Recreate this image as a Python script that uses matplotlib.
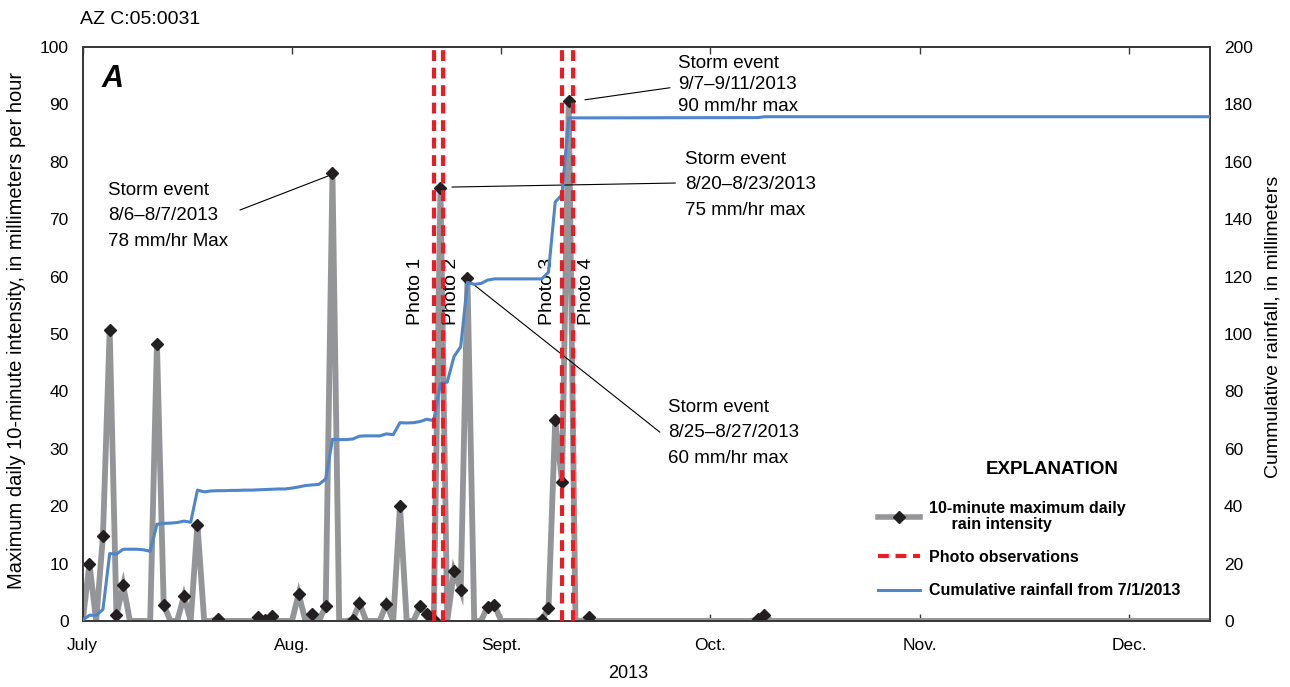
import numpy as np
import matplotlib
matplotlib.use("Agg")
import matplotlib.pyplot as plt
from matplotlib.lines import Line2D

plt.rcParams['font.family'] = ['Liberation Sans', 'DejaVu Sans']

# days counted from 7/1/2013 (day 0)
n_days = 168
event_days = [1, 3, 4, 5, 6, 11, 12, 15, 17, 20, 26, 27, 28, 32, 34, 36, 37, 40, 41,
              45, 47, 50, 51, 52, 53, 55, 56, 57, 60, 61, 68, 69, 70, 71, 72, 75, 100, 101]
event_values = [10.0, 14.8, 50.7, 1.0, 6.2, 48.3, 2.8, 4.3, 16.8, 0.3, 0.7, 0.2, 0.8,
                4.7, 1.2, 2.6, 78.0, 0.2, 3.1, 3.0, 20.0, 2.6, 1.2, 0.1, 75.5, 8.7,
                5.4, 59.8, 2.5, 2.8, 0.2, 2.2, 35.0, 24.3, 90.6, 0.7, 0.3, 1.0]

cum_days = list(range(0, 76)) + [100, 101, 167]
cum_values = [0.3, 2.0, 2.0, 4.0, 23.5, 23.3, 25.0, 25.0, 25.0, 24.8,
              24.3, 33.7, 34.0, 34.1, 34.3, 34.8, 34.4, 45.6, 45.0, 45.3,
              45.4, 45.4, 45.5, 45.5, 45.6, 45.6, 45.7, 45.8, 45.9, 46.0,
              46.0, 46.3, 46.7, 47.2, 47.4, 47.6, 49.5, 63.3, 63.2, 63.2,
              63.4, 64.4, 64.5, 64.5, 64.5, 65.2, 64.9, 69.1, 69.0, 69.1,
              69.5, 70.3, 69.8, 82.8, 83.2, 92.1, 95.6, 118.0, 117.3, 117.6,
              118.8, 119.2, 119.2, 119.2, 119.2, 119.2, 119.2, 119.2, 119.2, 121.5,
              146.0, 148.5, 175.3, 175.3, 175.3, 175.3, 175.4, 175.7, 175.7]

photo_days = [52.0, 53.4, 71.0, 72.7]
photo_labels = ['Photo 1', 'Photo 2', 'Photo 3', 'Photo 4']

month_ticks = [0, 31, 62, 93, 124, 155]
month_labels = ['July', 'Aug.', 'Sept.', 'Oct.', 'Nov.', 'Dec.']

gray = '#939598'
blue = '#4f86c9'
red = '#ed1c24'
dark = '#231f20'

intensity = np.zeros(n_days)
intensity[event_days] = event_values

fig = plt.figure(figsize=(12.9, 6.87), dpi=100)
ax = fig.add_axes([0.0641, 0.0961, 0.8739, 0.8355])
ax2 = ax.twinx()

ax.plot(np.arange(n_days), intensity, color=gray, lw=4.2, solid_joinstyle='miter', zorder=2)
ax.plot(event_days, event_values, ls='none', marker='D', ms=6, color=dark, zorder=3)

ax2.plot(cum_days, cum_values, color=blue, lw=2.2, zorder=3)
for d in photo_days:
    ax2.axvline(d, color=red, lw=3.0, ls=(0, (2.6, 1.6)), zorder=4)

ax.set_xlim(0, 167)
ax.set_ylim(0, 100)
ax2.set_ylim(0, 200)
ax.set_xticks(month_ticks)
ax.set_xticklabels(month_labels)
ax.set_yticks(np.arange(0, 101, 10))
ax2.set_yticks(np.arange(0, 201, 20))

for a in (ax, ax2):
    for s in a.spines.values():
        s.set_color('#3a3a3a')
        s.set_linewidth(1.4)
ax.tick_params(axis='x', direction='in', top=True, length=5, width=1, color='#3a3a3a',
               labelsize=12.5, pad=12)
ax.tick_params(axis='y', direction='in', length=0, labelsize=12.5, pad=10)
ax2.tick_params(axis='y', direction='in', length=0, labelsize=12.5, pad=10)

ax.set_xlabel('2013', fontsize=13)
ax.xaxis.set_label_coords(0.484, -0.0767)
ax.set_ylabel('Maximum daily 10-minute intensity, in millimeters per hour', fontsize=14.5)
ax.yaxis.set_label_coords(-0.0503, 0.507)
ax2.set_ylabel('Cummulative rainfall, in millimeters', fontsize=14)
ax2.yaxis.set_label_coords(1.048, 0.512)

fig.text(0.062, 0.972, 'AZ C:05:0031', fontsize=14, va='center', ha='left')
ax.text(4.5, 94.5, 'A', fontsize=22, fontweight='bold', style='italic', va='center', ha='center')

# photo labels
photo_text_x = [49.3, 54.7, 68.8, 74.6]
for x, lab in zip(photo_text_x, photo_labels):
    ax.text(x, 51.6, lab, rotation=90, fontsize=14, ha='center', va='bottom')

# storm event annotations
line_kw = dict(arrowstyle='-', color='black', lw=0.8, shrinkA=0, shrinkB=0)
ax.text(3.75, 70.6, 'Storm event\n8/6\u20138/7/2013\n78 mm/hr Max', fontsize=13.5,
        va='center', ha='left', linespacing=1.65)
ax.annotate('', xy=(36.3, 77.5), xytext=(23.3, 71.6), arrowprops=line_kw)
ax.text(89.2, 76.0, 'Storm event\n8/20\u20138/23/2013\n75 mm/hr max', fontsize=13.5,
        va='center', ha='left', linespacing=1.65)
ax.annotate('', xy=(54.7, 75.6), xytext=(87.8, 76.3), arrowprops=line_kw)
ax.text(86.7, 32.8, 'Storm event\n8/25\u20138/27/2013\n60 mm/hr max', fontsize=13.5,
        va='center', ha='left', linespacing=1.65)
ax.annotate('', xy=(57.4, 59.1), xytext=(85.5, 32.9), arrowprops=line_kw)
ax.text(88.2, 93.4, 'Storm event\n9/7\u20139/11/2013\n90 mm/hr max', fontsize=13.5,
        va='center', ha='left', linespacing=1.33)
ax.annotate('', xy=(74.4, 90.8), xytext=(87.0, 92.9), arrowprops=line_kw)

# explanation
fig.text(1052 / 1290, 1 - 470 / 687, 'EXPLANATION', fontsize=13.5, fontweight='bold',
         ha='center', va='center')
handles = [
    Line2D([], [], color=gray, lw=4, marker='D', ms=6, mfc=dark, mec=dark),
    Line2D([], [], color=red, lw=3, ls=(0, (2.6, 1.6))),
    Line2D([], [], color=blue, lw=2.2),
]
labels = ['10-minute maximum daily\n     rain intensity', 'Photo observations',
          'Cumulative rainfall from 7/1/2013']
leg = ax2.legend(handles, labels, loc='upper left', bbox_to_anchor=(870 / 1290, 1 - 493 / 687),
                 bbox_transform=fig.transFigure, frameon=False, numpoints=1, borderpad=0,
                 handlelength=2.6, handletextpad=0.6, labelspacing=1.15,
                 prop={'weight': 'bold', 'size': 11.5})
for t in leg.get_texts():
    t.set_linespacing(1.05)

fig.savefig('out.png', dpi=100)
